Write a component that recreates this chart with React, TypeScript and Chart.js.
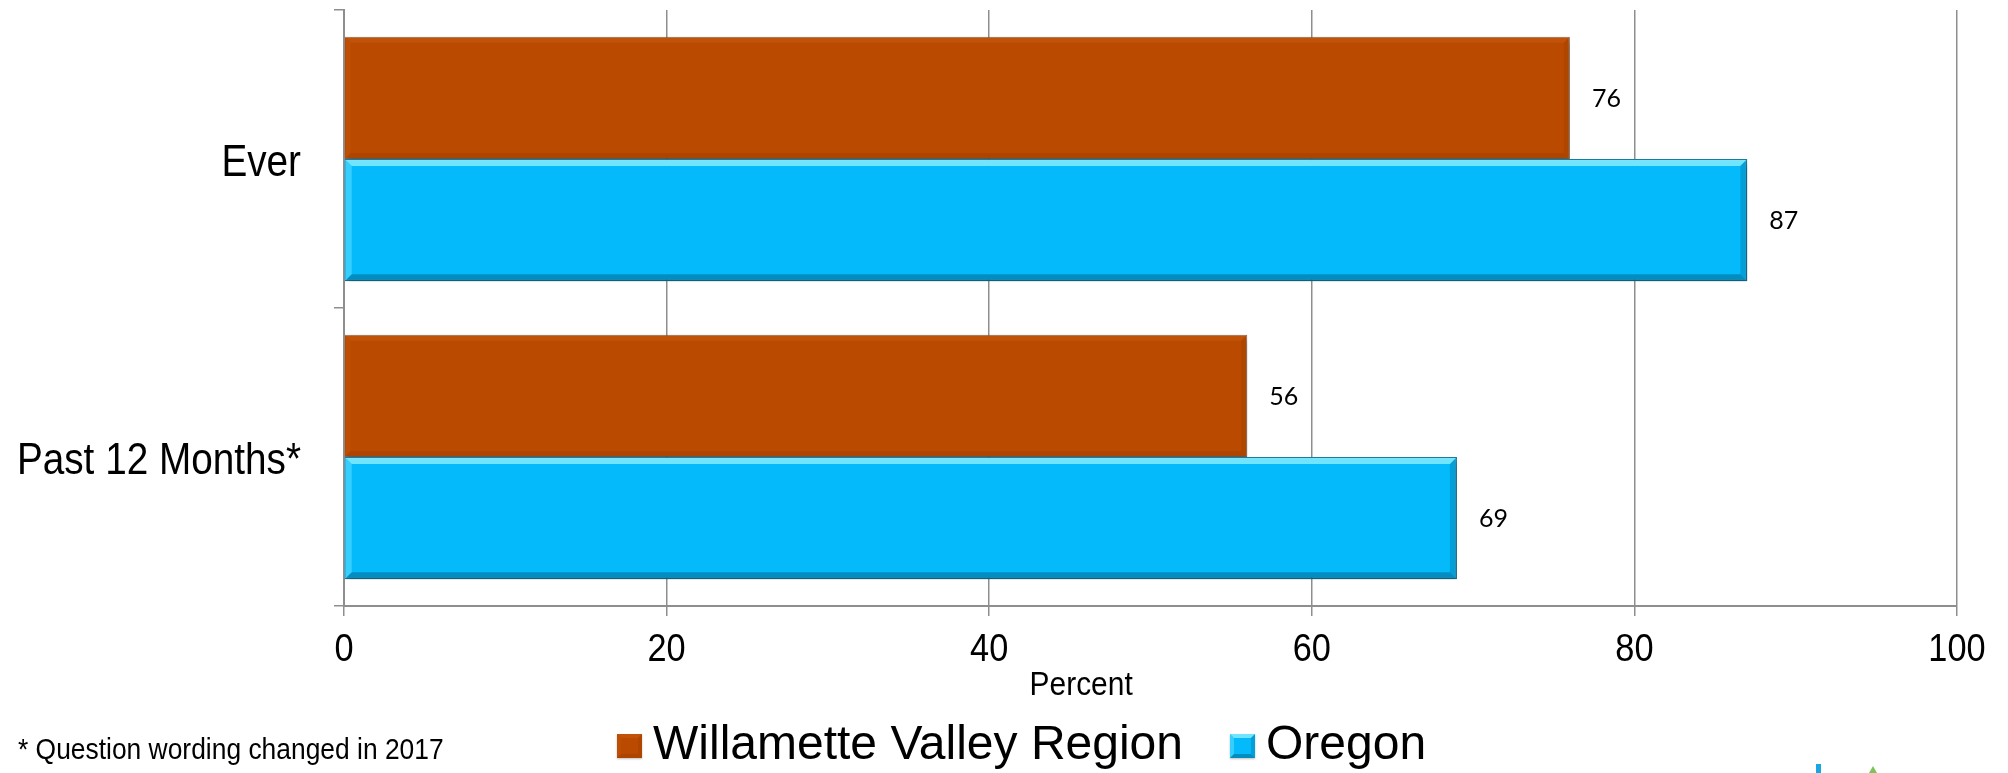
import React, { useEffect, useRef } from "react";
import { Chart, registerables } from "chart.js";

Chart.register(...registerables);

// Chart data
const categories = ["Ever", "Past 12 Months*"];
const seriesNames = ["Willamette Valley Region", "Oregon"];
const regionValues = [76, 56];
const oregonValues = [87, 69];
const xTickValues = [0, 20, 40, 60, 80, 100];
const axisTitle = "Percent";
const footnote = "* Question wording changed in 2017";

const SANS = '"Liberation Sans", Arial, sans-serif';
const LABEL_FONT = 'Lato, "Open Sans", sans-serif';
// horizontal squeeze used for the condensed axis lettering
const SQUEEZE = 0.88;

const ORANGE = "#B94A00";
const BLUE = "#05BAFA";
const GRID = "#8e8e8e";

type Bevel = { light: string; dark: string; side: string; edge: number };
const bevels: Bevel[] = [
  { light: "rgba(220,110,30,0.25)", dark: "rgba(90,30,0,0.12)", side: "rgba(110,40,0,0.12)", edge: 5 },
  { light: "rgba(140,240,255,0.8)", dark: "rgba(0,95,135,0.5)", side: "rgba(0,110,155,0.35)", edge: 6 },
];

function drawBevel(ctx: CanvasRenderingContext2D, l: number, t: number, r: number, b: number, bv: Bevel, e: number) {
  ctx.fillStyle = bv.light;
  ctx.beginPath();
  ctx.moveTo(l, t); ctx.lineTo(r, t); ctx.lineTo(r - e, t + e); ctx.lineTo(l + e, t + e); ctx.closePath();
  ctx.fill();
  ctx.globalAlpha = 0.45;
  ctx.beginPath();
  ctx.moveTo(l, t); ctx.lineTo(l + e, t + e); ctx.lineTo(l + e, b - e); ctx.lineTo(l, b); ctx.closePath();
  ctx.fill();
  ctx.globalAlpha = 1;
  ctx.fillStyle = bv.side;
  ctx.beginPath();
  ctx.moveTo(r, t); ctx.lineTo(r, b); ctx.lineTo(r - e, b - e); ctx.lineTo(r - e, t + e); ctx.closePath();
  ctx.fill();
  ctx.fillStyle = bv.dark;
  ctx.beginPath();
  ctx.moveTo(l, b); ctx.lineTo(r, b); ctx.lineTo(r - e, b - e); ctx.lineTo(l + e, b - e); ctx.closePath();
  ctx.fill();
}

function squeezedText(
  ctx: CanvasRenderingContext2D,
  text: string,
  x: number,
  y: number,
  size: number,
  align: CanvasTextAlign
) {
  ctx.save();
  ctx.font = `${size}px ${SANS}`;
  ctx.fillStyle = "#000";
  ctx.translate(x, y);
  ctx.scale(SQUEEZE, 1);
  ctx.textAlign = align;
  ctx.textBaseline = "middle";
  ctx.fillText(text, 0, 0);
  ctx.restore();
}

const decorPlugin = {
  id: "decor",
  beforeDatasetsDraw(chart: any) {
    const ctx = chart.ctx;
    ctx.save();
    ctx.shadowColor = "rgba(0,0,0,0.28)";
    ctx.shadowBlur = 6;
    ctx.shadowOffsetX = 2;
    ctx.shadowOffsetY = 4;
  },
  afterDatasetsDraw(chart: any) {
    const ctx: CanvasRenderingContext2D = chart.ctx;
    ctx.restore();
    chart.data.datasets.forEach((ds: any, di: number) => {
      const meta = chart.getDatasetMeta(di);
      meta.data.forEach((el: any, i: number) => {
        const p = el.getProps(["x", "y", "base", "height"], true);
        const l = Math.min(p.base, p.x);
        const r = Math.max(p.base, p.x);
        const t = p.y - p.height / 2;
        const b = p.y + p.height / 2;
        ctx.save();
        drawBevel(ctx, l + 1, t + 1, r - 1, b - 1, bevels[di], bevels[di].edge);
        ctx.restore();
        ctx.save();
        ctx.fillStyle = "#000";
        ctx.font = `25px ${LABEL_FONT}`;
        ctx.textAlign = "left";
        ctx.textBaseline = "middle";
        ctx.fillText(String(ds.data[i]), r + 22, p.y + 1);
        ctx.restore();
      });
    });
  },
  afterDraw(chart: any) {
    const ctx: CanvasRenderingContext2D = chart.ctx;
    const xs = chart.scales.x;
    const ys = chart.scales.y;

    // category labels
    ys.ticks.forEach((t: any, i: number) => {
      squeezedText(ctx, String(chart.data.labels[i]), ys.right - 43, ys.getPixelForTick(i) + 5, 44, "right");
    });
    // value axis labels
    xs.ticks.forEach((t: any) => {
      squeezedText(ctx, String(t.value), xs.getPixelForValue(t.value), xs.top + 44, 39, "center");
    });
    // axis title
    squeezedText(ctx, axisTitle, xs.getPixelForValue(45.7), xs.top + 80, 34, "center");
    // footnote
    squeezedText(ctx, footnote, 18, 751, 30, "left");

    // legend
    ctx.save();
    ctx.font = `48px ${SANS}`;
    let lx = 617;
    const ly = 746;
    chart.data.datasets.forEach((ds: any, di: number) => {
      const bw = 25;
      const bh = 24;
      const bx = lx;
      const by = ly - bh / 2;
      ctx.save();
      ctx.shadowColor = "rgba(0,0,0,0.25)";
      ctx.shadowBlur = 2;
      ctx.shadowOffsetY = 1;
      ctx.fillStyle = ds.backgroundColor;
      ctx.fillRect(bx, by, bw, bh);
      ctx.restore();
      drawBevel(ctx, bx, by, bx + bw, by + bh, bevels[di], 4);
      ctx.fillStyle = "#000";
      ctx.textAlign = "left";
      ctx.textBaseline = "middle";
      ctx.fillText(ds.label, bx + 36, ly);
      lx = bx + 36 + ctx.measureText(ds.label).width + 47;
    });

    // corner logo fragment
    ctx.fillStyle = "#1aa6e0";
    ctx.fillRect(1816, 764, 5, 9);
    ctx.fillStyle = "#7cc35a";
    ctx.beginPath();
    ctx.moveTo(1869, 773); ctx.lineTo(1873, 766); ctx.lineTo(1877, 773); ctx.closePath();
    ctx.fill();
    ctx.restore();
  },
};

export default function App() {
  const canvasRef = useRef<HTMLCanvasElement | null>(null);

  useEffect(() => {
    const canvas = canvasRef.current;
    if (!canvas) return;
    const chart = new Chart(canvas, {
      type: "bar",
      data: {
        labels: categories,
        datasets: [
          {
            label: seriesNames[0],
            data: regionValues,
            backgroundColor: ORANGE,
            borderColor: "rgba(125,95,75,0.9)",
            borderWidth: 1,
            categoryPercentage: 0.82,
            barPercentage: 1,
          },
          {
            label: seriesNames[1],
            data: oregonValues,
            backgroundColor: BLUE,
            borderColor: "#1a7d9e",
            borderWidth: 1.5,
            categoryPercentage: 0.82,
            barPercentage: 1,
          },
        ],
      },
      options: {
        indexAxis: "y",
        responsive: false,
        animation: false,
        devicePixelRatio: 1,
        layout: { padding: { top: 10, right: 51, left: 0, bottom: 0 } },
        plugins: {
          legend: { display: false },
          tooltip: { enabled: false },
          title: { display: false },
        },
        scales: {
          x: {
            type: "linear",
            min: xTickValues[0],
            max: xTickValues[xTickValues.length - 1],
            afterBuildTicks: (scale: any) => {
              scale.ticks = xTickValues.map((v) => ({ value: v }));
            },
            afterFit: (scale: any) => {
              scale.height = 167;
            },
            ticks: { display: false },
            grid: {
              color: GRID,
              lineWidth: 1.5,
              tickLength: 10,
              drawTicks: true,
            },
            border: { display: true, color: GRID, width: 2 },
          },
          y: {
            type: "category",
            afterFit: (scale: any) => {
              scale.width = 344;
            },
            ticks: { display: false },
            grid: {
              offset: true,
              drawOnChartArea: false,
              drawTicks: true,
              tickLength: 10,
              color: GRID,
              lineWidth: 1.5,
            },
            border: { display: true, color: GRID, width: 2 },
          },
        },
      },
      plugins: [decorPlugin],
    });
    return () => chart.destroy();
  }, []);

  return (
    <div style={{ position: "absolute", left: 0, top: 0, width: 2008, height: 773, background: "#fff" }}>
      <canvas ref={canvasRef} width={2008} height={773} style={{ width: 2008, height: 773, display: "block" }} />
    </div>
  );
}
